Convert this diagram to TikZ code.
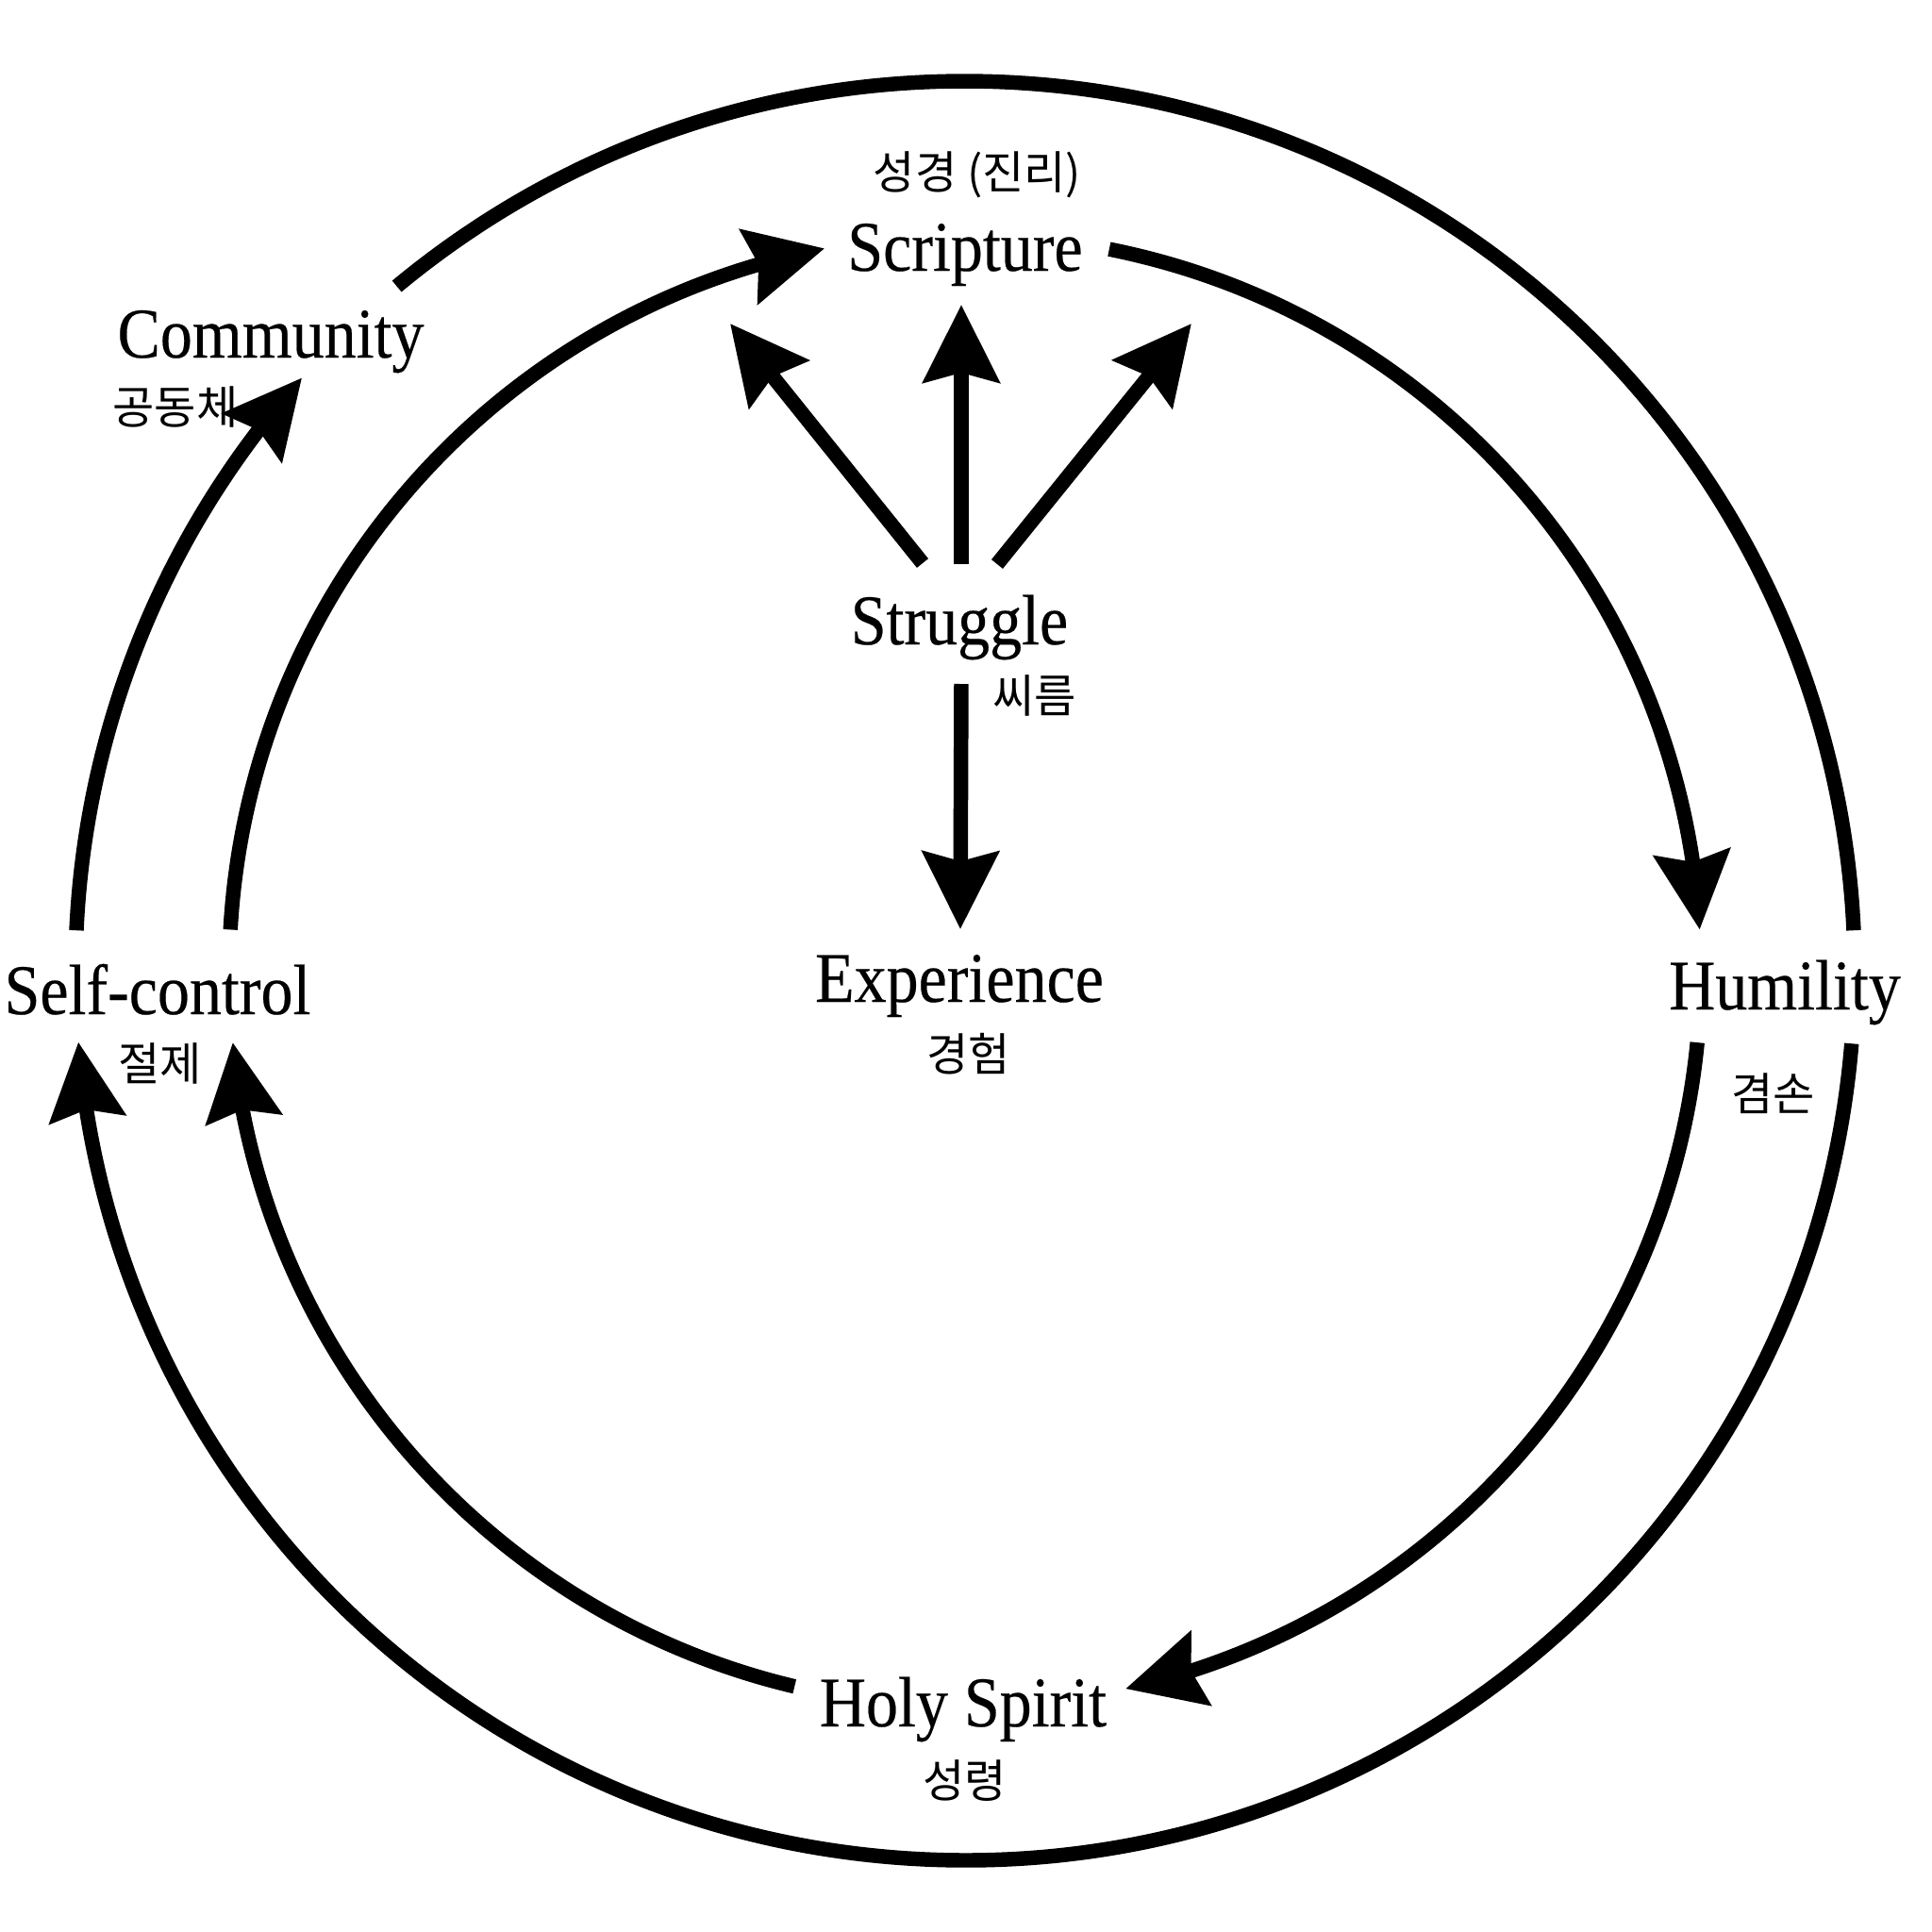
\documentclass[tikz,border=0pt]{standalone}
\usepackage{fontspec}
\setmainfont{Liberation Serif}[FakeStretch=0.9, FakeBold=0.3]
\newfontfamily\kr{Noto Sans CJK KR}
\usetikzlibrary{arrows.meta,bending}
\tikzset{
	band/.style={line width=4.4pt},
	flow/.style={line width=4.4pt, -{Stealth[length=8.2mm, width=8mm, inset=1mm]}},
	eng/.style={font=\fontsize{21.5}{24}\selectfont, anchor=base, inner sep=0pt},
	kor/.style={font=\kr\fontsize{13.7}{16}\selectfont, inner sep=0pt},
}

\begin{document}
\begin{tikzpicture}
		%%%%% START %%%%%
		\useasboundingbox (-10.23, -10.19) rectangle (10.25, 10.29);
		\coordinate (hub) at (0, 0);
		
		% labels
		\node[kor] (scr-kr) at (0.13, 8.44) {성경 (진리)};
		\node[eng] (scr) at (0, 7.42) {Scripture};
		\node[eng] (com) at (-7.36, 6.50) {Community};
		\node[kor] (com-kr) at (-8.37, 5.98) {공동체};
		\node[eng] (str) at (-0.06, 3.46) {Struggle};
		\node[kor] (str-kr) at (0.74, 2.92) {씨름};
		\node[eng] (exp) at (-0.06, -0.33) {Experience};
		\node[kor] (exp-kr) at (0.04, -0.88) {경험};
		\node[eng] (slf) at (-8.56, -0.46) {Self-control};
		\node[kor] (slf-kr) at (-8.53, -0.98) {절제};
		\node[eng] (hum) at (8.69, -0.41) {Humility};
		\node[kor] (hum-kr) at (8.57, -1.30) {겸손};
		\node[eng] (hol) at (-0.02, -8.01) {Holy Spirit};
		\node[kor] (hol-kr) at (0, -8.59) {성령};
		
		% ends of the fan round Struggle
		\coordinate (str-up) at (-0.04, 4.31);
		\coordinate (str-l) at (-0.45, 4.32);
		\coordinate (str-r) at (0.34, 4.31);
		\coordinate (str-dn) at (-0.04, 3.04);
		\coordinate (scr-up) at (-0.04, 7.06);
		\coordinate (scr-l) at (-2.49, 6.86);
		\coordinate (scr-r) at (2.40, 6.86);
		\coordinate (exp-up) at (-0.05, 0.44);
		
		\draw[flow] (str-up) -- (scr-up);
		\draw[flow] (str-l) -- (scr-l);
		\draw[flow] (str-r) -- (scr-r);
		\draw[flow] (str-dn) -- (exp-up);
		
		% outer ring
		\draw[band] (hub) ++(129.7:9.43) arc[start angle=129.7, end angle=2.6, radius=9.43];
		\draw[flow] (hub) ++(177.4:9.43) arc[start angle=177.4, end angle=138.2, radius=9.43];
		\draw[flow] (hub) ++(-4.7:9.43) arc[start angle=-4.7, end angle=-175.4, radius=9.43];
		
		% inner ring
		\draw[flow] (hub) ++(176.8:7.8) arc[start angle=176.8, end angle=101.0, radius=7.8];
		\draw[flow] (hub) ++(78.7:7.8) arc[start angle=78.7, end angle=3.2, radius=7.8];
		\draw[flow] (hub) ++(-5.6:7.8) arc[start angle=-5.6, end angle=-77.4, radius=7.8];
		\draw[flow] (hub) ++(-103.4:7.8) arc[start angle=-103.4, end angle=-174.4, radius=7.8];
		
		%%%%% END %%%%%
	\end{tikzpicture}
\end{document}
